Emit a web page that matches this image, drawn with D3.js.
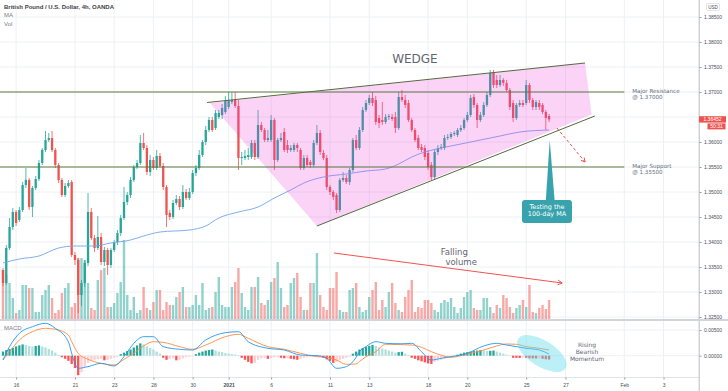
<!DOCTYPE html>
<html><head><meta charset="utf-8">
<script src="https://cdn.jsdelivr.net/npm/d3@7"></script>
<style>body{margin:0;background:#fff}svg{display:block}</style>
</head><body>
<svg id="c" width="728" height="391"></svg>
<script>
// ---------------- DATA ----------------
const open = [1.3344,1.3318,1.3388,1.3430,1.3460,1.3444,1.3464,1.3514,1.3524,1.3470,
1.3508,1.3526,1.3558,1.3584,1.3604,1.3608,1.3584,1.3554,1.3524,1.3494,
1.3512,1.3520,1.3374,1.3364,1.3294,1.3318,1.3358,1.3460,1.3408,1.3388,
1.3410,1.3360,1.3384,1.3354,1.3384,1.3400,1.3418,1.3448,1.3480,1.3494,
1.3524,1.3550,1.3558,1.3598,1.3588,1.3540,1.3564,1.3548,1.3572,1.3552,
1.3510,1.3458,1.3450,1.3478,1.3486,1.3470,1.3500,1.3488,1.3500,1.3538,
1.3548,1.3574,1.3600,1.3624,1.3644,1.3628,1.3650,1.3654,1.3660,1.3670,
1.3680,1.3684,1.3672,1.3568,1.3568,1.3570,1.3570,1.3598,1.3570,1.3634,
1.3624,1.3604,1.3604,1.3644,1.3564,1.3604,1.3620,1.3594,1.3584,1.3584,
1.3594,1.3584,1.3548,1.3568,1.3560,1.3554,1.3598,1.3618,1.3578,1.3568,
1.3510,1.3500,1.3494,1.3464,1.3524,1.3528,1.3520,1.3544,1.3604,1.3588,
1.3624,1.3664,1.3678,1.3688,1.3684,1.3648,1.3644,1.3640,1.3650,1.3650,
1.3650,1.3628,1.3690,1.3684,1.3678,1.3644,1.3624,1.3608,1.3590,1.3588,
1.3578,1.3554,1.3530,1.3580,1.3588,1.3588,1.3608,1.3610,1.3616,1.3614,
1.3624,1.3628,1.3644,1.3654,1.3690,1.3674,1.3644,1.3654,1.3674,1.3694,
1.3738,1.3724,1.3714,1.3724,1.3718,1.3704,1.3678,1.3648,1.3674,1.3678,
1.3678,1.3714,1.3684,1.3670,1.3678,1.3674,1.3660,1.3652];
const high = [1.3348,1.3394,1.3448,1.3468,1.3464,1.3470,1.3520,1.3548,1.3528,1.3512,
1.3532,1.3564,1.3588,1.3622,1.3618,1.3622,1.3588,1.3558,1.3528,1.3518,
1.3524,1.3524,1.3380,1.3368,1.3324,1.3364,1.3498,1.3468,1.3414,1.3452,
1.3418,1.3390,1.3388,1.3388,1.3404,1.3424,1.3454,1.3510,1.3500,1.3530,
1.3554,1.3564,1.3614,1.3618,1.3594,1.3574,1.3570,1.3584,1.3578,1.3558,
1.3514,1.3464,1.3484,1.3494,1.3492,1.3514,1.3506,1.3508,1.3544,1.3554,
1.3584,1.3604,1.3632,1.3650,1.3650,1.3664,1.3664,1.3676,1.3692,1.3700,
1.3700,1.3700,1.3684,1.3580,1.3584,1.3588,1.3604,1.3604,1.3664,1.3640,
1.3628,1.3624,1.3654,1.3648,1.3608,1.3618,1.3628,1.3604,1.3594,1.3598,
1.3598,1.3588,1.3574,1.3574,1.3564,1.3604,1.3634,1.3624,1.3584,1.3574,
1.3514,1.3504,1.3498,1.3528,1.3540,1.3534,1.3548,1.3608,1.3614,1.3630,
1.3670,1.3684,1.3694,1.3700,1.3692,1.3654,1.3680,1.3656,1.3656,1.3656,
1.3660,1.3700,1.3704,1.3694,1.3684,1.3648,1.3628,1.3614,1.3596,1.3594,
1.3584,1.3560,1.3584,1.3594,1.3596,1.3614,1.3616,1.3620,1.3622,1.3628,
1.3634,1.3648,1.3660,1.3694,1.3696,1.3678,1.3660,1.3680,1.3700,1.3744,
1.3744,1.3734,1.3734,1.3728,1.3724,1.3708,1.3684,1.3678,1.3684,1.3684,
1.3724,1.3718,1.3688,1.3684,1.3684,1.3678,1.3664,1.3656];
const low = [1.3312,1.3314,1.3384,1.3424,1.3432,1.3440,1.3460,1.3508,1.3464,1.3450,
1.3504,1.3522,1.3554,1.3580,1.3600,1.3580,1.3548,1.3518,1.3490,1.3490,
1.3508,1.3370,1.3354,1.3258,1.3272,1.3310,1.3352,1.3404,1.3380,1.3384,
1.3354,1.3352,1.3334,1.3348,1.3380,1.3394,1.3412,1.3444,1.3474,1.3488,
1.3520,1.3546,1.3554,1.3584,1.3534,1.3532,1.3544,1.3544,1.3548,1.3504,
1.3430,1.3444,1.3446,1.3474,1.3464,1.3466,1.3484,1.3484,1.3496,1.3532,
1.3544,1.3570,1.3594,1.3620,1.3620,1.3624,1.3646,1.3646,1.3656,1.3666,
1.3676,1.3668,1.3544,1.3554,1.3564,1.3564,1.3566,1.3564,1.3566,1.3620,
1.3600,1.3600,1.3600,1.3544,1.3560,1.3600,1.3580,1.3578,1.3580,1.3580,
1.3580,1.3544,1.3544,1.3550,1.3548,1.3550,1.3594,1.3574,1.3564,1.3504,
1.3494,1.3484,1.3458,1.3460,1.3520,1.3516,1.3514,1.3540,1.3584,1.3584,
1.3620,1.3660,1.3674,1.3672,1.3634,1.3628,1.3634,1.3636,1.3644,1.3642,
1.3618,1.3624,1.3680,1.3668,1.3640,1.3620,1.3600,1.3584,1.3580,1.3564,
1.3544,1.3524,1.3524,1.3574,1.3584,1.3584,1.3604,1.3606,1.3612,1.3610,
1.3620,1.3624,1.3640,1.3650,1.3668,1.3628,1.3640,1.3650,1.3670,1.3690,
1.3708,1.3708,1.3710,1.3712,1.3700,1.3664,1.3640,1.3644,1.3670,1.3670,
1.3674,1.3678,1.3664,1.3664,1.3664,1.3656,1.3624,1.3640];
const close = [1.3318,1.3388,1.3430,1.3460,1.3438,1.3464,1.3514,1.3524,1.3470,1.3508,
1.3526,1.3558,1.3584,1.3604,1.3608,1.3584,1.3554,1.3524,1.3494,1.3512,
1.3518,1.3374,1.3364,1.3294,1.3318,1.3358,1.3460,1.3408,1.3388,1.3410,
1.3360,1.3384,1.3354,1.3384,1.3400,1.3418,1.3448,1.3480,1.3494,1.3524,
1.3550,1.3558,1.3598,1.3588,1.3540,1.3564,1.3548,1.3572,1.3552,1.3510,
1.3454,1.3450,1.3478,1.3486,1.3470,1.3500,1.3488,1.3500,1.3538,1.3548,
1.3574,1.3600,1.3624,1.3644,1.3624,1.3658,1.3658,1.3668,1.3682,1.3684,
1.3684,1.3672,1.3568,1.3570,1.3572,1.3574,1.3598,1.3570,1.3634,1.3624,
1.3604,1.3608,1.3644,1.3564,1.3604,1.3608,1.3584,1.3584,1.3588,1.3594,
1.3588,1.3548,1.3568,1.3554,1.3554,1.3598,1.3618,1.3580,1.3568,1.3510,
1.3500,1.3490,1.3464,1.3524,1.3528,1.3520,1.3544,1.3604,1.3588,1.3624,
1.3664,1.3678,1.3688,1.3678,1.3640,1.3638,1.3640,1.3650,1.3652,1.3646,
1.3628,1.3690,1.3684,1.3674,1.3644,1.3624,1.3604,1.3588,1.3584,1.3570,
1.3550,1.3530,1.3580,1.3588,1.3590,1.3608,1.3610,1.3616,1.3618,1.3624,
1.3628,1.3644,1.3654,1.3688,1.3674,1.3644,1.3654,1.3674,1.3694,1.3738,
1.3714,1.3714,1.3724,1.3718,1.3704,1.3670,1.3648,1.3674,1.3678,1.3674,
1.3714,1.3684,1.3670,1.3680,1.3670,1.3660,1.3648,1.36452];
const volume = [49,44,36,21,6,9,34,34,31,31,7,7,24,29,34,21,6,9,26,31,
36,12,16,61,61,59,36,11,9,39,49,51,12,12,16,26,37,79,24,9,
22,6,9,32,11,9,17,29,29,9,17,14,14,22,27,32,12,12,14,24,
14,36,9,11,12,27,42,14,12,12,32,37,51,26,12,9,32,32,42,16,
14,19,37,41,57,31,12,14,36,41,46,22,9,9,36,36,66,24,12,9,
31,31,47,9,7,7,29,31,36,12,7,9,22,29,37,9,19,12,27,36,
16,9,7,22,29,39,7,12,11,19,19,16,9,7,16,19,17,21,12,6,
11,22,27,29,11,9,9,21,21,12,6,14,11,24,21,12,6,11,14,19,
12,34,7,6,11,14,10,19];
const macdHist = [0.0008,0.0011,0.0013,0.0015,0.0018,0.0020,0.0022,0.0021,0.0019,0.0018,
0.0019,0.0020,0.0018,0.0016,0.0013,0.0010,0.0006,0.0002,-0.0003,-0.0006,
-0.0010,-0.0016,-0.0024,-0.0038,-0.0032,-0.0022,-0.0014,-0.0010,-0.0008,-0.0007,
-0.0006,-0.0009,-0.0008,-0.0006,-0.0004,-0.0002,0.0003,0.0006,0.0009,0.0012,
0.0016,0.0020,0.0024,0.0022,0.0018,0.0015,0.0012,0.0008,0.0004,-0.0004,
-0.0008,-0.0006,-0.0005,-0.0009,-0.0008,-0.0005,-0.0003,-0.0002,-0.0001,0.0003,
0.0006,0.0008,0.0010,0.0011,0.0012,0.0010,0.0008,0.0007,0.0005,0.0004,
0.0003,0.0002,0.0001,-0.0004,-0.0008,-0.0012,-0.0015,-0.0014,-0.0008,-0.0005,
-0.0004,-0.0006,-0.0005,-0.0003,-0.0003,-0.0004,-0.0005,-0.0005,-0.0006,-0.0007,
-0.0008,-0.0006,-0.0004,-0.0003,-0.0002,-0.0001,0.0001,-0.0001,-0.0004,-0.0007,
-0.0010,-0.0014,-0.0012,-0.0008,-0.0006,-0.0004,-0.0002,0.0004,0.0008,0.0012,
0.0015,0.0017,0.0019,0.0021,0.0019,0.0016,0.0014,0.0012,0.0010,0.0008,
0.0006,0.0007,0.00076,0.0004,0.0002,-0.0004,-0.0006,-0.0009,-0.0011,-0.0013,
-0.0015,-0.0016,-0.0012,-0.0010,-0.0008,-0.0006,-0.0004,-0.0003,-0.0001,0.0002,
0.0004,0.0006,0.0007,0.0008,0.0009,0.0010,0.0011,0.0010,0.0009,0.00096,
0.0010,0.0008,0.0006,0.0004,0.0002,0.0001,-0.0004,-0.00042,-0.00044,-0.00036,
-0.0004,-0.0005,-0.00052,-0.00054,-0.0005,-0.0006,-0.0007,-0.00074];
const maIdx = [0,5,11,17,22,28,33,39,43,48,57,62,66,72,78,83,88,92,98,105,111,117,121,125,129,134,140,146,152,158,163,167];
const maVal = [1.3358,1.3366,1.3372,1.3388,1.3392,1.3392,1.3398,1.3404,1.3412,1.3420,1.3424,1.3432,1.3448,1.3460,1.3470,1.3488,1.3504,1.3518,1.3530,1.3536,1.3542,1.3546,1.3556,1.3570,1.3580,1.3588,1.3596,1.3604,1.3612,1.3620,1.3623,1.3624];
const macdIdx = [0,2,5,9,13,16,20,21,23,26,30,34,37,40,43,46,49,54,58,62,68,72,75,81,86,91,96,99,102,105,108,109,111,114,117,122,125,128,131,134,137,142,147,151,154,157,160,164,167];
const macdVal = [-0.00084,0.00176,0.00435,0.00564,0.0063,0.00533,0.00273,0.00047,-0.00245,-0.00213,-0.00149,-0.002,-0.00019,0.00241,0.0037,0.0037,0.00176,0.00124,0.00111,0.00306,0.00448,0.00467,0.00273,0.00144,0.00111,0.00013,0,-0.00051,-0.00245,-0.00213,-0.0003,0.00078,0.00176,0.00273,0.00241,0.00232,0.00241,0.00078,-0.00084,-0.00051,-0.00019,0.00047,0.00189,0.00241,0.00208,0.00176,0.00144,0.00111,0.00033];
const signalVal = [-0.00084,0.00078,0.00306,0.00467,0.00533,0.00514,0.00403,0.00273,0.00047,-0.0007,-0.00149,-0.00181,-0.0007,0.00047,0.00189,0.00273,0.0026,0.00176,0.00124,0.00208,0.0037,0.00416,0.00338,0.00176,0.00124,0.00047,-0.00019,-0.00031,-0.00084,-0.00168,-0.0016,-0.00116,-0.00019,0.00078,0.00222,0.00215,0.00208,0.00163,0.00078,0.0001,-0.00031,0.00033,0.00111,0.00189,0.00228,0.00222,0.00176,0.00144,0.00111];
const priceTicks = [1.325,1.33,1.335,1.34,1.345,1.35,1.355,1.36,1.365,1.37,1.375,1.38,1.385];
const macdTicks = [0.005,0];
const timeTickIdx = [4,22,34,46,58,69,82,100,112,130,142,160,172,190,202];
const timeTickLab = ["16","21","23","28","30","2021","6","11","13","18","20","25","27","Feb","3"];
const lastPrice = 1.36452, countdown = "50:31";
const resistance = 1.37, support = 1.355, levelEnd = 190, levelLabelIdx = 192.4;
const wedgeUpper = [[62.4,1.3679],[178,1.3758]];
const wedgeLower = [[96,1.3432],[181,1.3652]];
const wedgeFill = [[63.3,1.3678],[178,1.3758],[180,1.3655],[96,1.3432]];
const dashedArrow = [[169.4,1.3628],[178,1.3560]];
const volArrow = [[101.2,1.3378],[171,1.3318]];
const callout = {x0:158.7,x1:174,pTop:1.3484,pBot:1.3438,base0:166,base1:168.7,tip:[167.2,1.3604]};

// ---------------- LAYOUT ----------------
const R = 699, mainB = 319, mT = 321, mB = 377;
const svg = d3.select("#c");
const FONT = "'Liberation Sans', Arial, sans-serif";
const DV = "'DejaVu Sans', Verdana, sans-serif";
const x = d3.scaleLinear().domain([0,212]).range([3, 3+212*3.27]);
const yP = d3.scaleLinear().domain([1.3884,1.3246]).range([0,319]);
const yV = d3.scaleLinear().domain([0,100]).range([319,219]);
const yM = d3.scaleLinear().domain([0,0.005]).range([355.7,330]);

const defs = svg.append("defs");
defs.append("clipPath").attr("id","cm").append("rect").attr("x",0).attr("y",0).attr("width",R).attr("height",mainB);
defs.append("clipPath").attr("id","cd").append("rect").attr("x",0).attr("y",mT).attr("width",R).attr("height",mB-mT);

svg.append("rect").attr("width",728).attr("height",391).attr("fill","#fff");

// grid
const grid = svg.append("g").attr("stroke","#eef0f4").attr("stroke-width",1);
timeTickIdx.forEach(i=>{
  grid.append("line").attr("x1",x(i)).attr("x2",x(i)).attr("y1",0).attr("y2",mainB);
  grid.append("line").attr("x1",x(i)).attr("x2",x(i)).attr("y1",mT).attr("y2",mB);
});
priceTicks.forEach(p=>grid.append("line").attr("x1",0).attr("x2",R).attr("y1",yP(p)).attr("y2",yP(p)));
macdTicks.forEach(v=>grid.append("line").attr("x1",0).attr("x2",R).attr("y1",yM(v)).attr("y2",yM(v)));

const main = svg.append("g").attr("clip-path","url(#cm)");
const idx = d3.range(close.length);
const up = i => close[i] >= open[i];

// volume
main.append("g").selectAll("rect").data(idx).join("rect")
  .attr("x",i=>x(i)-1.2).attr("width",2.4)
  .attr("y",i=>yV(volume[i])).attr("height",i=>yV(0)-yV(volume[i]))
  .attr("fill",i=>up(i)?"rgba(38,166,154,0.5)":"rgba(239,83,80,0.5)");

// candles
const cg = main.append("g");
cg.selectAll("line").data(idx).join("line")
  .attr("x1",i=>x(i)).attr("x2",i=>x(i))
  .attr("y1",i=>yP(high[i])).attr("y2",i=>yP(low[i]))
  .attr("stroke",i=>up(i)?"#26a69a":"#ef5350").attr("stroke-width",0.8);
cg.selectAll("rect").data(idx).join("rect")
  .attr("x",i=>x(i)-1.15).attr("width",2.3)
  .attr("y",i=>yP(Math.max(open[i],close[i])))
  .attr("height",i=>Math.max(0.8,Math.abs(yP(open[i])-yP(close[i]))))
  .attr("fill",i=>up(i)?"#26a69a":"#ef5350");

// MA
main.append("path").datum(maIdx.map((d,k)=>[d,maVal[k]]))
  .attr("d",d3.line().x(d=>x(d[0])).y(d=>yP(d[1])).curve(d3.curveMonotoneX))
  .attr("fill","none").attr("stroke","#6fa6ea").attr("stroke-width",0.9);

// wedge fill
const lineGen = d3.line().x(d=>x(d[0])).y(d=>yP(d[1]));
main.append("path").attr("d",lineGen(wedgeFill)+"Z")
  .attr("fill","rgb(239,55,219)").attr("fill-opacity",0.22);

// lines
const ann = main.append("g");
[wedgeUpper,wedgeLower].forEach(l=>ann.append("path").attr("d",lineGen(l)).attr("stroke","#56683f").attr("stroke-width",1).attr("fill","none"));
[resistance,support].forEach(p=>ann.append("line").attr("x1",0).attr("x2",x(levelEnd)).attr("y1",yP(p)).attr("y2",yP(p)).attr("stroke","#5b7a3f").attr("stroke-width",1));

function chevron(g,p1,p2,size,color,w){
  const a = Math.atan2(p2[1]-p1[1],p2[0]-p1[0]), s=0.5;
  const pts=[[p2[0]-size*Math.cos(a-s),p2[1]-size*Math.sin(a-s)],p2,[p2[0]-size*Math.cos(a+s),p2[1]-size*Math.sin(a+s)]];
  g.append("path").attr("d",d3.line()(pts)).attr("fill","none").attr("stroke",color).attr("stroke-width",w);
}
// dashed arrow
{
  const p1=[x(dashedArrow[0][0]),yP(dashedArrow[0][1])], p2=[x(dashedArrow[1][0]),yP(dashedArrow[1][1])];
  ann.append("line").attr("x1",p1[0]).attr("y1",p1[1]).attr("x2",p2[0]).attr("y2",p2[1])
    .attr("stroke","#ef5350").attr("stroke-width",1).attr("stroke-dasharray","3,2.2");
  chevron(ann,p1,p2,4.5,"#ef5350",1);
}
// volume arrow
{
  const p1=[x(volArrow[0][0]),yP(volArrow[0][1])], p2=[x(volArrow[1][0]),yP(volArrow[1][1])];
  ann.append("line").attr("x1",p1[0]).attr("y1",p1[1]).attr("x2",p2[0]).attr("y2",p2[1])
    .attr("stroke","#ef5350").attr("stroke-width",1);
  chevron(ann,p1,p2,5,"#ef5350",1);
}
// callout
{
  const bx0=x(callout.x0), bx1=x(callout.x1), by0=yP(callout.pTop), by1=yP(callout.pBot);
  ann.append("path").attr("d",d3.line()([[x(callout.base0),by0+1],[x(callout.tip[0]),yP(callout.tip[1])],[x(callout.base1),by0+1]])+"Z").attr("fill","#38a3ad");
  ann.append("rect").attr("x",bx0).attr("y",by0).attr("width",bx1-bx0).attr("height",by1-by0).attr("rx",3).attr("fill","#38a3ad");
  const cx=(bx0+bx1)/2;
  ann.append("text").attr("x",cx).attr("y",by0+8.6).attr("text-anchor","middle").attr("font-family",DV).attr("font-size",6.4).attr("fill","#fff").text("Testing the");
  ann.append("text").attr("x",cx).attr("y",by0+16.4).attr("text-anchor","middle").attr("font-family",DV).attr("font-size",6.4).attr("fill","#fff").text("100-day MA");
}
// texts
ann.append("text").attr("x",x(119)).attr("y",yP(1.3758)).attr("font-family",DV).attr("font-size",12).attr("fill","#5f6673").text("WEDGE");
ann.append("text").attr("x",x(138)).attr("y",yP(1.3374)).attr("text-anchor","middle").attr("font-family",DV).attr("font-size",8.5).attr("fill","#5f6673").text("Falling");
ann.append("text").attr("x",x(140.1)).attr("y",yP(1.3355)).attr("text-anchor","middle").attr("font-family",DV).attr("font-size",8.5).attr("fill","#5f6673").text("volume");

// level labels (outside main clip)
const lab = svg.append("g").attr("font-family",DV).attr("font-size",5.6).attr("fill","#667080");
lab.append("text").attr("x",x(levelLabelIdx)).attr("y",yP(resistance)+0.8).text("Major Resistance");
lab.append("text").attr("x",x(levelLabelIdx)).attr("y",yP(resistance)+6.8).text("@ "+resistance.toFixed(5));
lab.append("text").attr("x",x(levelLabelIdx)).attr("y",yP(support)+0.8).text("Major Support");
lab.append("text").attr("x",x(levelLabelIdx)).attr("y",yP(support)+6.8).text("@ "+support.toFixed(5));

// ---------------- MACD pane ----------------
const md = svg.append("g").attr("clip-path","url(#cd)");
const histColor = i=>{
  const h=macdHist[i], p = i>0?macdHist[i-1]:null;
  if(h>=0) return (p===null||h>p)?"#26a69a":"#b2dfdb";
  return (p===null||h<p)?"#ff5252":"#ffcdd2";
};
md.selectAll("rect").data(idx).join("rect")
  .attr("x",i=>x(i)-1.15).attr("width",2.3)
  .attr("y",i=>Math.min(yM(0),yM(macdHist[i])))
  .attr("height",i=>Math.abs(yM(macdHist[i])-yM(0)))
  .attr("fill",histColor);
const mline = d3.line().x(d=>x(d[0])).y(d=>yM(d[1])).curve(d3.curveMonotoneX);
md.append("path").datum(macdIdx.map((d,k)=>[d,signalVal[k]])).attr("d",mline).attr("fill","none").attr("stroke","#ff8a3d").attr("stroke-width",0.9);
md.append("path").datum(macdIdx.map((d,k)=>[d,macdVal[k]])).attr("d",mline).attr("fill","none").attr("stroke","#2196f3").attr("stroke-width",0.9);
md.append("ellipse").attr("cx",x(164.8)).attr("cy",yM(0.00043)).attr("rx",28).attr("ry",13)
  .attr("transform",`rotate(32 ${x(164.8)} ${yM(0.00043)})`).attr("fill","rgb(95,220,235)").attr("fill-opacity",0.42);
const mom = svg.append("g").attr("font-family",DV).attr("font-size",6).attr("fill","#5f6673").attr("text-anchor","middle");
[["Rising",0.00208],["Bearish",0.00072],["Momentum",-0.00054]].forEach(([t,v])=>
  mom.append("text").attr("x",x(178.6)).attr("y",yM(v)).attr("dy","0.35em").text(t));

// ---------------- frame & axes ----------------
svg.append("rect").attr("x",0).attr("y",319).attr("width",728).attr("height",2).attr("fill","#d1d4dc");
svg.append("line").attr("x1",0).attr("x2",R).attr("y1",377.5).attr("y2",377.5).attr("stroke","#e0e3eb");
svg.append("rect").attr("x",R-0.5).attr("y",0).attr("width",1.5).attr("height",391).attr("fill","#cfd2d8");

function styleAxis(g){
  g.select(".domain").remove();
  g.selectAll("line").attr("stroke","#9598a1");
  g.selectAll("text").attr("font-family",FONT).attr("font-size",5).attr("fill","#4a4d55");
}
const ly = yP(lastPrice);
const pax = svg.append("g").attr("transform",`translate(${R+0.5},0)`)
  .call(d3.axisRight(yP).tickValues(priceTicks).tickSize(2).tickPadding(2.5).tickFormat(d3.format(".5f"))).call(styleAxis);
pax.selectAll(".tick").filter(d=>Math.abs(yP(d)-ly)<6).select("text").remove();
svg.append("g").attr("transform",`translate(${R+0.5},0)`)
  .call(d3.axisRight(yM).tickValues(macdTicks).tickSize(2).tickPadding(2.5).tickFormat(d3.format(".5f"))).call(styleAxis);
const tax = svg.append("g").attr("transform","translate(0,377.5)")
  .call(d3.axisBottom(x).tickValues(timeTickIdx).tickSize(2).tickPadding(3.5).tickFormat((d,k)=>timeTickLab[k])).call(styleAxis);
tax.selectAll("text").attr("font-weight",(d,k)=>timeTickLab[k]==="2021"?"bold":"normal");

// last price label
svg.append("rect").attr("x",R).attr("y",ly-3.2).attr("width",27).attr("height",6.4).attr("fill","#ef5350");
svg.append("text").attr("x",R+13.5).attr("y",ly).attr("dy","0.35em").attr("text-anchor","middle").attr("font-family",FONT).attr("font-size",5).attr("fill","#fff").text(lastPrice.toFixed(5));
svg.append("rect").attr("x",707.5).attr("y",ly+4).attr("width",18).attr("height",6).attr("fill","#ef5350");
svg.append("text").attr("x",716.5).attr("y",ly+7).attr("dy","0.35em").attr("text-anchor","middle").attr("font-family",FONT).attr("font-size",5).attr("fill","#fff").text(countdown);

// USD box
svg.append("rect").attr("x",706.5).attr("y",3.5).attr("width",13).attr("height",7).attr("rx",1).attr("fill","#fff").attr("stroke","#d1d4dc").attr("stroke-width",0.6);
svg.append("text").attr("x",713).attr("y",7).attr("dy","0.35em").attr("text-anchor","middle").attr("font-family",FONT).attr("font-size",4.6).attr("fill","#4a4d55").text("USD");

// legend
svg.append("text").attr("x",4).attr("y",9.4).attr("font-family",FONT).attr("font-size",6).attr("font-weight","bold").attr("fill","#3d3f45").text("British Pound / U.S. Dollar, 4h, OANDA");
svg.append("text").attr("x",4).attr("y",17.2).attr("font-family",FONT).attr("font-size",6).attr("fill","#7a7d85").text("MA");
svg.append("text").attr("x",4).attr("y",26).attr("font-family",FONT).attr("font-size",6).attr("fill","#7a7d85").text("Vol");
svg.append("text").attr("x",4).attr("y",329.6).attr("font-family",FONT).attr("font-size",6).attr("fill","#7a7d85").text("MACD");
</script>
</body></html>
